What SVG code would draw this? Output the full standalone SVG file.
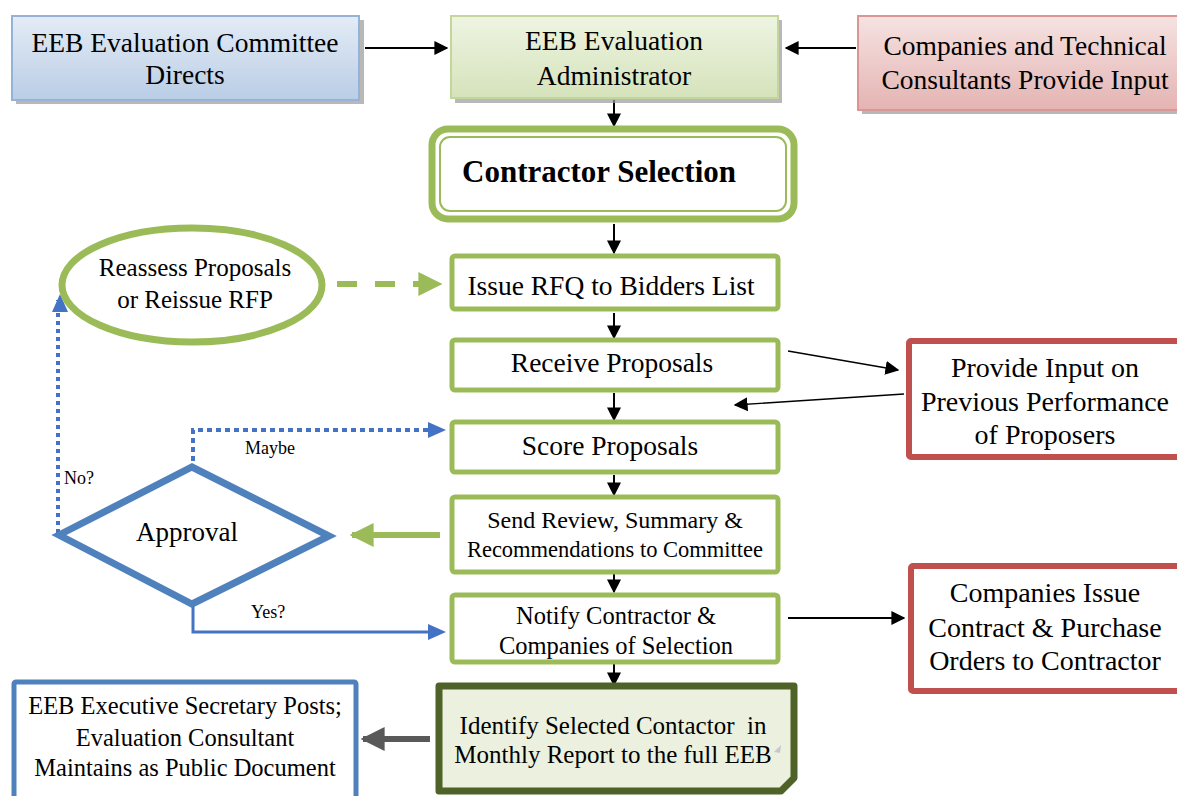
<svg xmlns="http://www.w3.org/2000/svg" width="1177" height="796" viewBox="0 0 1177 796">
<defs>
<linearGradient id="gBlue" x1="0" y1="0" x2="0" y2="1"><stop offset="0" stop-color="#e4ecf6"/><stop offset="1" stop-color="#b9cde5"/></linearGradient>
<linearGradient id="gGreen" x1="0" y1="0" x2="0" y2="1"><stop offset="0" stop-color="#eef4e2"/><stop offset="1" stop-color="#d5e3bb"/></linearGradient>
<linearGradient id="gRed" x1="0" y1="0" x2="0" y2="1"><stop offset="0" stop-color="#f5e3e2"/><stop offset="1" stop-color="#e4b4b3"/></linearGradient>
<marker id="ahBlackL" viewBox="0 0 10 10" refX="9" refY="5" markerWidth="14" markerHeight="14" markerUnits="userSpaceOnUse" orient="auto"><path d="M0,0 L10,5 L0,10 z" fill="#000"/></marker>
<marker id="ahGreen" viewBox="0 0 10 10" refX="9" refY="5" markerWidth="4" markerHeight="4" orient="auto"><path d="M0,0 L10,5 L0,10 z" fill="#9bbb59"/></marker>
<marker id="ahGray" viewBox="0 0 10 10" refX="9" refY="5" markerWidth="4" markerHeight="4" orient="auto"><path d="M0,0 L10,5 L0,10 z" fill="#595959"/></marker>
</defs>
<style>
text{font-family:"Liberation Serif","Times New Roman",serif;fill:#000;text-anchor:middle}
.t27{font-size:27.5px}
.t24{font-size:25px}
.t28{font-size:28px}
.lbl{font-size:18px;text-anchor:start}
.shadow{fill:#9a9a9a;opacity:0.7}
.step{fill:#fff;stroke:#9bbb59;stroke-width:5}
.redbox{fill:#fff;stroke:#c0504d;stroke-width:6}
.blk{stroke:#000;stroke-width:2;fill:none}
</style>
<rect width="1177" height="796" fill="#fff"/>

<g id="connectors">
<line class="blk" x1="365" y1="48" x2="447" y2="48" marker-end="url(#ahBlackL)"/>
<line class="blk" x1="856" y1="48" x2="786" y2="48" marker-end="url(#ahBlackL)"/>
<line class="blk" x1="614" y1="100" x2="614" y2="126" marker-end="url(#ahBlackL)"/>
<line class="blk" x1="614" y1="224" x2="614" y2="253" marker-end="url(#ahBlackL)"/>
<line class="blk" x1="614" y1="313" x2="614" y2="338" marker-end="url(#ahBlackL)"/>
<line class="blk" x1="614" y1="393" x2="614" y2="420" marker-end="url(#ahBlackL)"/>
<line class="blk" x1="614" y1="475" x2="614" y2="495" marker-end="url(#ahBlackL)"/>
<line class="blk" x1="614" y1="573" x2="614" y2="592" marker-end="url(#ahBlackL)"/>
<line class="blk" x1="614" y1="664" x2="614" y2="685" marker-end="url(#ahBlackL)"/>
<line stroke="#000" stroke-width="1.3" x1="788" y1="351" x2="898" y2="370" marker-end="url(#ahBlackL)"/>
<line stroke="#000" stroke-width="1.3" x1="904" y1="394" x2="735" y2="405" marker-end="url(#ahBlackL)"/>
<line class="blk" x1="788" y1="618" x2="904" y2="618" marker-end="url(#ahBlackL)"/>
<line x1="337" y1="284" x2="440" y2="284" stroke="#9bbb59" stroke-width="6" stroke-dasharray="20 18" marker-end="url(#ahGreen)"/>
<line x1="440" y1="535" x2="352" y2="535" stroke="#9bbb59" stroke-width="6" marker-end="url(#ahGreen)"/>
<line x1="430" y1="739" x2="363" y2="739" stroke="#595959" stroke-width="6" marker-end="url(#ahGray)"/>
<path d="M58,533 L58,300" fill="none" stroke="#4472c4" stroke-width="4" stroke-dasharray="4 4"/>
<path d="M52,312 L60,294 L68,312 z" fill="#4472c4"/>
<path d="M193,461 L193,430 L436,430" fill="none" stroke="#4472c4" stroke-width="4" stroke-dasharray="5 4"/>
<path d="M428,422 L446,430 L428,438 z" fill="#4472c4"/>
<path d="M193,605 L193,632 L434,632" fill="none" stroke="#4472c4" stroke-width="3"/>
<path d="M428,624 L446,632 L428,640 z" fill="#4472c4"/>
<text class="lbl" x="64" y="484">No?</text>
<text class="lbl" x="245" y="454">Maybe</text>
<text class="lbl" x="251" y="618">Yes?</text>
</g>

<g id="node-committee">
<rect class="shadow" x="16" y="20" width="348" height="84"/>
<rect x="12" y="16" width="347" height="84" fill="url(#gBlue)" stroke="#95b3d7" stroke-width="2"/>
<text class="t27" x="185" y="52">EEB Evaluation Committee</text>
<text class="t27" x="185" y="84">Directs</text>
</g>

<g id="node-administrator">
<rect class="shadow" x="455" y="20" width="327" height="83"/>
<rect x="451" y="16" width="327" height="82" fill="url(#gGreen)" stroke="#c3d69b" stroke-width="2"/>
<text class="t27" x="614" y="50">EEB Evaluation</text>
<text class="t27" x="614" y="85">Administrator</text>
</g>

<g id="node-companies-input">
<rect class="shadow" x="862" y="20" width="320" height="94"/>
<rect x="858" y="16" width="325" height="94" fill="url(#gRed)" stroke="#d99694" stroke-width="2"/>
<text class="t27" x="1025" y="55">Companies and Technical</text>
<text class="t27" x="1025" y="89">Consultants Provide Input</text>
</g>

<g id="node-contractor-selection">
<rect x="432" y="129" width="362" height="90" rx="16" fill="#fff" stroke="#9bbb59" stroke-width="7"/>
<rect x="440" y="137" width="346" height="74" rx="10" fill="#fff" stroke="#9bbb59" stroke-width="2"/>
<text x="462" y="182" style="font-size:31px;font-weight:bold;text-anchor:start">Contractor Selection</text>
</g>

<g id="node-reassess">
<ellipse cx="192" cy="285" rx="130" ry="57" fill="#fff" stroke="#9bbb59" stroke-width="7"/>
<text class="t24" x="195" y="276">Reassess Proposals</text>
<text class="t24" x="195" y="308">or Reissue RFP</text>
</g>

<g id="node-issue-rfq">
<rect class="step" x="452" y="256" width="326" height="53" rx="3"/>
<text class="t27" x="611" y="295">Issue RFQ to Bidders List</text>
</g>

<g id="node-receive">
<rect class="step" x="452" y="340" width="326" height="50" rx="3"/>
<text class="t27" x="612" y="372">Receive Proposals</text>
</g>

<g id="node-score">
<rect class="step" x="452" y="422" width="326" height="50" rx="3"/>
<text class="t27" x="610" y="455">Score Proposals</text>
</g>

<g id="node-send-review">
<rect class="step" x="452" y="497" width="326" height="75" rx="3"/>
<text x="615" y="528" style="font-size:24px">Send Review, Summary &amp;</text>
<text x="615" y="557" style="font-size:22.5px">Recommendations to Committee</text>
</g>

<g id="node-notify">
<rect class="step" x="452" y="595" width="326" height="67" rx="3"/>
<text x="616" y="624" style="font-size:24.5px">Notify Contractor &amp;</text>
<text x="616" y="654" style="font-size:24.5px">Companies of Selection</text>
</g>

<g id="node-identify">
<path d="M439,686 L794,686 L794,778 L781,791 L439,791 z" fill="#ebf1de" stroke="#4f6228" stroke-width="7" stroke-linejoin="round"/>
<path d="M774,752 L781,745 L780,753 z" fill="#c8c8c8"/>
<text x="613" y="734" style="font-size:25px" xml:space="preserve">Identify Selected Contactor  in</text>
<text x="613" y="763" style="font-size:25px">Monthly Report to the full EEB</text>
</g>

<g id="node-approval">
<path d="M59,535 L192,467 L329,536 L192,604 z" fill="#fff" stroke="#4f81bd" stroke-width="7" stroke-linejoin="miter"/>
<text x="187" y="541" style="font-size:27px">Approval</text>
</g>

<g id="node-secretary">
<rect x="14" y="682" width="342" height="130" fill="#fff" stroke="#4f81bd" stroke-width="5" rx="2"/>
<text x="185" y="714" style="font-size:24.5px">EEB Executive Secretary Posts;</text>
<text x="185" y="746" style="font-size:24.5px">Evaluation Consultant</text>
<text x="185" y="776" style="font-size:24.5px">Maintains as Public Document</text>
</g>

<g id="node-previous-performance">
<rect class="redbox" x="909" y="341" width="280" height="116" rx="2"/>
<text class="t28" x="1045" y="377">Provide Input on</text>
<text class="t28" x="1045" y="411">Previous Performance</text>
<text class="t28" x="1045" y="444">of Proposers</text>
</g>

<g id="node-companies-issue">
<rect class="redbox" x="911" y="566" width="280" height="125" rx="2"/>
<text class="t28" x="1045" y="602">Companies Issue</text>
<text class="t28" x="1045" y="637">Contract &amp; Purchase</text>
<text class="t28" x="1045" y="670">Orders to Contractor</text>
</g>
</svg>
